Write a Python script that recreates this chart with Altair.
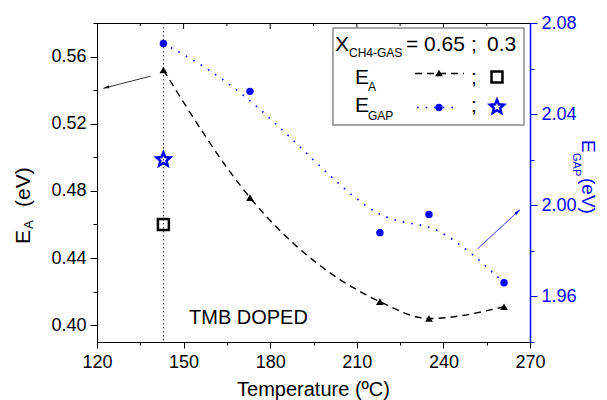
import altair as alt
import pandas as pd

# ---------------- data ----------------
temps = [143, 173, 218, 235, 261]
ea_065 = [0.552, 0.476, 0.414, 0.404, 0.411]
egap_065 = [2.071, 2.050, 1.988, 1.996, 1.966]
temp_03 = [143]
ea_03 = [0.460]
egap_03 = [2.020]
vline_temp = [143]

x_ticks = [120, 135, 150, 165, 180, 195, 210, 225, 240, 255, 270]
ea_ticks = [0.40, 0.42, 0.44, 0.46, 0.48, 0.50, 0.52, 0.54, 0.56, 0.58]
egap_ticks = [1.94, 1.96, 1.98, 2.00, 2.02, 2.04, 2.06, 2.08]
top_major = [150, 180, 210, 240]
top_minor = [135, 165, 195, 225, 255]

# annotation arrows (data units)
arrow_ea = {"x": [138.5], "y": [0.5483], "x2": [122.2], "y2": [0.5411]}
arrow_gap = {"x": [251.9], "y": [1.981], "x2": [266.5], "y2": [1.998]}

W, H = 433, 319
FONT = "Liberation Sans"
BLUE = "#0000ff"
STAR = ("M0,-1L0.265,-0.364L0.951,-0.309L0.428,0.139L0.588,0.809L0,0.45"
        "L-0.588,0.809L-0.428,0.139L-0.951,-0.309L-0.265,-0.364Z")
HEAD = "M0,0L0.24,1L-0.24,1Z"

xscale = alt.Scale(domain=[120, 270], nice=False, zero=False)
ea_scale = alt.Scale(domain=[0.39, 0.58], nice=False, zero=False)
gap_scale = alt.Scale(domain=[1.94, 2.08], nice=False, zero=False)

xaxis = alt.Axis(
    orient="bottom", values=x_ticks, title=None, grid=False, labelFont=FONT, labelFontSize=18,
    labelColor="black", tickColor="black", domainColor="black",
    labelExpr="datum.value % 30 == 0 ? format(datum.value, 'd') : ''",
    tickSize={"condition": {"test": "datum.value % 30 == 0", "value": 6}, "value": 3},
    labelPadding=5, labelFlush=False, labelOverlap=False, labelBound=False,
)
ea_axis = alt.Axis(
    orient="left", values=ea_ticks, title=None, grid=False, labelFont=FONT,
    labelFontSize=18, labelColor="black", tickColor="black", domainColor="black",
    labelExpr="round(datum.value*100) % 4 == 0 ? format(datum.value, '.2f') : ''",
    tickSize={"condition": {"test": "round(datum.value*100) % 4 == 0", "value": 7}, "value": 4},
    labelPadding=4, labelOverlap=False, labelFlush=False, labelBound=False,
)
gap_axis = alt.Axis(
    orient="right", values=egap_ticks, title=None, grid=False, labelFont=FONT,
    labelFontSize=18, labelColor=BLUE, tickColor=BLUE, domainColor=BLUE, domainWidth=1.5,
    labelExpr="round(datum.value*100) % 4 == 0 ? format(datum.value, '.2f') : ''",
    tickSize={"condition": {"test": "round(datum.value*100) % 4 == 0", "value": 7}, "value": 4},
    labelPadding=4, labelOverlap=False, labelFlush=False, labelBound=False,
)

df_main = pd.DataFrame({"T": temps, "EA": ea_065, "EGAP": egap_065})
df_03 = pd.DataFrame({"T": temp_03, "EA": ea_03, "EGAP": egap_03})
X = alt.X("T:Q", scale=xscale, axis=xaxis)
Y_EA = alt.Y("EA:Q", scale=ea_scale, axis=ea_axis)
Y_GAP = alt.Y("EGAP:Q", scale=gap_scale, axis=gap_axis)

one = pd.DataFrame({"k": [0]})

# ---------- left (E_A) group ----------
vline = alt.Chart(pd.DataFrame({"T": vline_temp})).mark_rule(
    color="#333333", strokeWidth=1, strokeDash=[1.5, 2.5]
).encode(x=X, y=alt.value(0), y2=alt.value(H))

topmaj = alt.Chart(pd.DataFrame({"T": top_major})).mark_rule(color="black").encode(
    x=X, y=alt.value(0), y2=alt.value(6))
topmin = alt.Chart(pd.DataFrame({"T": top_minor})).mark_rule(color="black").encode(
    x=X, y=alt.value(0), y2=alt.value(3))

ea_line = alt.Chart(df_main).mark_line(
    color="black", strokeWidth=1.4, strokeDash=[7, 5], interpolate="monotone"
).encode(x=X, y=Y_EA)
ea_pts = alt.Chart(df_main).mark_point(
    shape="triangle-up", filled=True, color="black", size=60, opacity=1
).encode(x=X, y=Y_EA)
ea_sq = alt.Chart(df_03).mark_point(
    shape="square", filled=False, color="black", strokeWidth=2.5, size=120, opacity=1
).encode(x=X, y=Y_EA)

arr1_df = pd.DataFrame(arrow_ea).rename(columns={"x": "T", "y": "EA"})
arr1 = alt.Chart(arr1_df).mark_rule(color="black", strokeWidth=0.8).encode(
    x=X, y=Y_EA, x2="x2:Q", y2="y2:Q")
arr1_head = alt.Chart(arr1_df).mark_point(
    shape=HEAD, filled=True, color="black", size=144, angle=256, opacity=1
).encode(x=alt.X("x2:Q", scale=xscale, axis=xaxis), y=alt.Y("y2:Q", scale=ea_scale, axis=ea_axis))


# ---------- annotations (pixel layout) ----------
def txt(s, x, y, size=20, color="black", angle=0, align="left"):
    return alt.Chart(one).mark_text(
        text=s, font=FONT, fontSize=size, color=color, angle=angle,
        align=align, baseline="alphabetic"
    ).encode(x=alt.value(x), y=alt.value(y))


legend_box = alt.Chart(one).mark_rect(
    fill="white", stroke="#8c8c8c", strokeWidth=1.5
).encode(x=alt.value(236), x2=alt.value(427), y=alt.value(5), y2=alt.value(102))

leg_ea_line = alt.Chart(one).mark_rule(color="black", strokeWidth=1.4, strokeDash=[7, 5]).encode(
    x=alt.value(318), x2=alt.value(367), y=alt.value(50.5))
leg_ea_tri = alt.Chart(one).mark_point(
    shape="triangle-up", filled=True, color="black", size=60, opacity=1
).encode(x=alt.value(342), y=alt.value(50))
leg_ea_sq = alt.Chart(one).mark_point(
    shape="square", filled=False, color="black", strokeWidth=2.5, size=120, opacity=1
).encode(x=alt.value(400), y=alt.value(54))
leg_gap_line = alt.Chart(one).mark_rule(color=BLUE, strokeWidth=1.6, strokeDash=[1.6, 7]).encode(
    x=alt.value(320), x2=alt.value(360), y=alt.value(84.5))
leg_gap_dot = alt.Chart(one).mark_point(
    shape="circle", filled=True, color=BLUE, size=55, opacity=1
).encode(x=alt.value(342), y=alt.value(84.5))
leg_gap_star = alt.Chart(one).mark_point(
    shape=STAR, filled=False, color=BLUE, strokeWidth=2.5, size=210, opacity=1
).encode(x=alt.value(400), y=alt.value(84))

annotations = [
    legend_box,
    txt("X", 238, 27.5, 21),
    txt("CH4-GAS", 252, 34, 12),
    txt("= 0.65", 309, 27.5, 21),
    txt(";", 374, 27.5, 21),
    txt("0.3", 390, 27.5, 21),
    txt("E", 258, 60.5, 21),
    txt("A", 271, 67.5, 12),
    leg_ea_line, leg_ea_tri,
    txt(";", 374, 60.5, 21),
    leg_ea_sq,
    txt("E", 258, 89, 21),
    txt("GAP", 271, 97, 12),
    leg_gap_line, leg_gap_dot,
    txt(";", 374, 89, 21),
    leg_gap_star,
    txt("TMB DOPED", 92, 301, 20),
    txt("Temperature (ºC)", W / 2, 373, 20, align="center"),
    txt("E", -67, 221, 21, angle=270),
    txt("A", -64, 206, 13, angle=270),
    txt("(eV)", -67, 184, 21, angle=270),
    txt("E", 485, 117, 19, color=BLUE, angle=90),
    txt("GAP", 476, 130, 11, color=BLUE, angle=90),
    txt("(eV)", 485, 155, 19, color=BLUE, angle=90),
]

left = alt.layer(vline, topmaj, topmin, ea_line, ea_pts, ea_sq, arr1, arr1_head, *annotations)

# ---------- right (E_GAP) group ----------
gap_line = alt.Chart(df_main).mark_line(
    color=BLUE, strokeWidth=1.6, strokeDash=[1.6, 7], interpolate="basis"
).encode(x=X, y=Y_GAP)
gap_pts = alt.Chart(df_main).mark_point(
    shape="circle", filled=True, color=BLUE, size=55, opacity=1
).encode(x=X, y=Y_GAP)
gap_star = alt.Chart(df_03).mark_point(
    shape=STAR, filled=False, color=BLUE, strokeWidth=2.5, size=210, opacity=1
).encode(x=X, y=Y_GAP)

arr2_df = pd.DataFrame(arrow_gap).rename(columns={"x": "T", "y": "EGAP"})
arr2 = alt.Chart(arr2_df).mark_rule(color=BLUE, strokeWidth=0.8).encode(
    x=X, y=Y_GAP, x2="x2:Q", y2="y2:Q")
arr2_head = alt.Chart(arr2_df).mark_point(
    shape=HEAD, filled=True, color=BLUE, size=144, angle=48, opacity=1
).encode(x=alt.X("x2:Q", scale=xscale, axis=xaxis), y=alt.Y("y2:Q", scale=gap_scale, axis=gap_axis))

right = alt.layer(gap_line, gap_pts, gap_star, arr2, arr2_head)

chart = alt.layer(left, right).resolve_scale(y="independent").properties(
    width=W, height=H,
    autosize=alt.AutoSizeParams(type="none"),
    padding={"left": 89, "top": 15, "right": 69, "bottom": 58},
).configure_view(stroke="black", strokeWidth=1)

chart.save("out.html", embed_options={"renderer": "svg", "actions": False})
